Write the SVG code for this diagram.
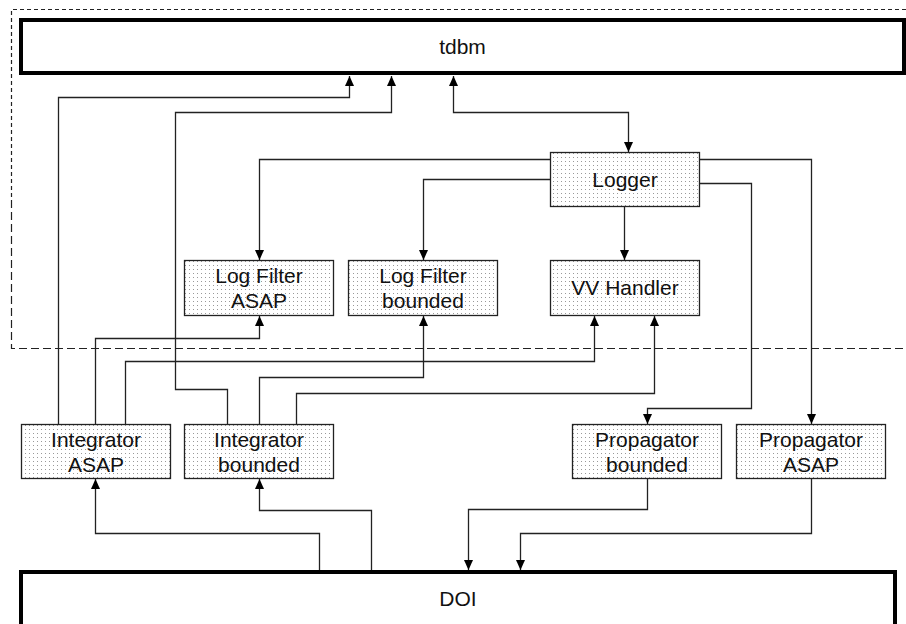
<svg xmlns="http://www.w3.org/2000/svg" width="906" height="624" viewBox="0 0 906 624">
<style>
.big{fill:#fff;stroke:#000;stroke-width:4}
.node{fill:url(#dots);stroke:#222;stroke-width:1.3}
.t{font-family:"Liberation Sans",Arial,sans-serif;font-size:21px;fill:#111;text-anchor:middle}
.c{fill:none;stroke:#222;stroke-width:1.3;marker-end:url(#arr)}
.dash{fill:none;stroke:#222;stroke-width:1.2}
</style>
<defs>
<pattern id="dots" width="4" height="4" patternUnits="userSpaceOnUse">
<rect width="4" height="4" fill="#fff"/>
<rect x="1" y="1" width="1" height="1" fill="#999"/>
</pattern>
<marker id="arr" viewBox="0 0 10 9" refX="10" refY="4.5" markerWidth="10" markerHeight="9" markerUnits="userSpaceOnUse" orient="auto-start-reverse">
<path d="M0,0 L10,4.5 L0,9 z" fill="#000"/>
</marker>
</defs>
<path class="dash" stroke-dasharray="4 3" d="M906,9.5 H11.5 V200"/>
<path class="dash" stroke-dasharray="8 4" d="M11.5,200 V348.5 H906"/>
<g id="tdbm"><rect class="big" x="21" y="20" width="883" height="53"/><text class="t" x="462.5" y="54">tdbm</text></g>
<g id="doi"><rect class="big" x="21" y="572" width="874" height="60"/><text class="t" x="458" y="606">DOI</text></g>
<g id="logger"><rect class="node" x="550.5" y="152.5" width="149" height="54"/><text class="t" x="625" y="187">Logger</text></g>
<g id="lfasap"><rect class="node" x="184.5" y="260.5" width="149" height="55"/><text class="t" x="259" y="283">Log Filter</text><text class="t" x="259" y="308">ASAP</text></g>
<g id="lfbounded"><rect class="node" x="348.5" y="260.5" width="149" height="55"/><text class="t" x="423" y="283">Log Filter</text><text class="t" x="423" y="308">bounded</text></g>
<g id="vv"><rect class="node" x="550.5" y="260.5" width="149" height="55"/><text class="t" x="625" y="295">VV Handler</text></g>
<g id="intasap"><rect class="node" x="21.5" y="424.5" width="149" height="54"/><text class="t" x="96" y="447">Integrator</text><text class="t" x="96" y="472">ASAP</text></g>
<g id="intbounded"><rect class="node" x="184.5" y="424.5" width="149" height="54"/><text class="t" x="259" y="447">Integrator</text><text class="t" x="259" y="472">bounded</text></g>
<g id="propbounded"><rect class="node" x="572.5" y="424.5" width="149" height="54"/><text class="t" x="647" y="447">Propagator</text><text class="t" x="647" y="472">bounded</text></g>
<g id="propasap"><rect class="node" x="736.5" y="424.5" width="149" height="54"/><text class="t" x="811" y="447">Propagator</text><text class="t" x="811" y="472">ASAP</text></g>
<g id="connectors">
<path class="c" d="M58.5,424 V97.5 H349.5 V76"/>
<path class="c" d="M227.5,424 V389.5 H175.5 V112.5 H391.5 V76"/>
<path class="c" style="marker-start:url(#arr)" d="M453.5,76 V112.5 H628.5 V152"/>
<path class="c" d="M550,159.5 H259.5 V260"/>
<path class="c" d="M550,179.5 H423.5 V260"/>
<path class="c" d="M624.5,207 V260"/>
<path class="c" d="M700,159.5 H811.5 V424"/>
<path class="c" d="M700,183.5 H751.5 V408.5 H647.5 V424"/>
<path class="c" d="M95.5,424 V338.5 H259.5 V316"/>
<path class="c" d="M125.5,424 V361.5 H594.5 V316"/>
<path class="c" d="M259.5,424 V377.5 H423.5 V316"/>
<path class="c" d="M296.5,424 V393.5 H654.5 V316"/>
<path class="c" d="M319.5,570 V533.5 H95.5 V479"/>
<path class="c" d="M371.5,570 V510.5 H259.5 V479"/>
<path class="c" d="M647.5,479 V509.5 H468.5 V570"/>
<path class="c" d="M811.5,479 V533.5 H520.5 V570"/>
</g>
</svg>
